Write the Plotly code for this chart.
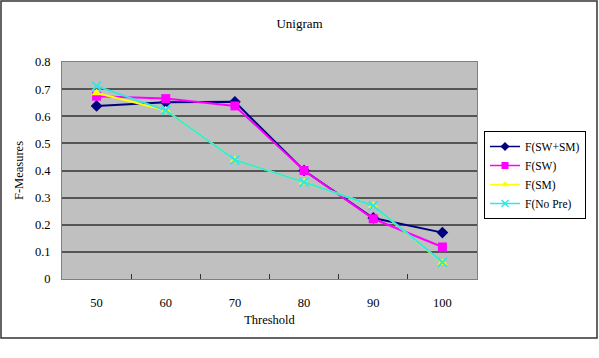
import plotly.graph_objects as go

thresholds = ["50", "60", "70", "80", "90", "100"]
f_sw_sm = [0.638, 0.652, 0.653, 0.400, 0.225, 0.171]
f_sw = [0.674, 0.665, 0.638, 0.400, 0.222, 0.118]
f_sm = [0.686, 0.622, 0.439, 0.357, 0.270, 0.060]
f_nopre = [0.711, 0.622, 0.439, 0.357, 0.270, 0.062]
series_names = ["F(SW+SM)", "F(SW)", "F(SM)", "F(No Pre)"]
y_ticks = [0, 0.1, 0.2, 0.3, 0.4, 0.5, 0.6, 0.7, 0.8]
y_ticktext = ["0", "0.1", "0.2", "0.3", "0.4", "0.5", "0.6", "0.7", "0.8"]

FONT = "Liberation Serif, Times New Roman, serif"
colors = ["#000080", "#FF00FF", "#FFFF00", "#33E6E6"]
symbols = ["diamond", "square", "triangle-up", "x-thin"]
values = [f_sw_sm, f_sw, f_sm, f_nopre]

fig = go.Figure()
for name, vals, col, sym in zip(series_names, values, colors, symbols):
    fig.add_trace(go.Scatter(x=thresholds, y=vals, name=name, mode="lines+markers",
                             showlegend=False, legendgroup=name,
                             line=dict(color=col, width=2),
                             marker=dict(symbol=sym, size=9, color=col,
                                         line=dict(color=col, width=2 if sym == "x-thin" else 0))))
for name, col, sym in zip(series_names, colors, symbols):
    fig.add_trace(go.Scatter(x=[None], y=[None], name=name, mode="lines+markers",
                             showlegend=True, legendgroup=name,
                             line=dict(color=col, width=1.5),
                             marker=dict(symbol=sym, size=7, color=col,
                                         line=dict(color=col, width=1.5 if sym == "x-thin" else 0))))

fig.update_layout(
    width=599, height=358,
    margin=dict(l=62, r=122, t=62, b=79),
    paper_bgcolor="white",
    plot_bgcolor="#C0C0C0",
    font=dict(family=FONT, size=12, color="black"),
    title=dict(text="Unigram", x=0.5, xref="container", xanchor="center",
               y=1 - 23 / 358, yref="container", yanchor="middle",
               font=dict(family=FONT, size=13, color="black")),
    showlegend=True,
    legend=dict(x=(484 - 62) / 415, y=(279 - 131) / 217, xanchor="left", yanchor="top",
                bgcolor="white", bordercolor="black", borderwidth=1,
                font=dict(family=FONT, size=11.5, color="black"),
                tracegroupgap=0),
    xaxis=dict(type="category", range=[-0.5, 5.5], showgrid=False,
               tickson="boundaries", ticks="inside", ticklen=5, tickcolor="#333",
               showline=True, linecolor="#808080", linewidth=1, mirror=True,
               ticklabelstandoff=12,
               tickfont=dict(family=FONT, size=12.5, color="black"),
               title=dict(text="Threshold", font=dict(family=FONT, size=12.5, color="black"),
                          standoff=6)),
    yaxis=dict(range=[0, 0.8], tickvals=y_ticks, ticktext=y_ticktext,
               showgrid=True, gridcolor="#555555", gridwidth=1.5,
               showline=True, linecolor="#808080", linewidth=1, mirror=True,
               zeroline=False, ticks="", ticklabelstandoff=8,
               tickfont=dict(family=FONT, size=12.5, color="black"),
               title=dict(text="F-Measures", font=dict(family=FONT, size=12.5, color="black"),
                          standoff=8)),
    shapes=[dict(type="rect", xref="paper", yref="paper",
                 x0=(1 - 62) / 415, x1=(597 - 62) / 415,
                 y0=(279 - 338) / 217, y1=(279 - 1) / 217,
                 line=dict(color="#333333", width=1.5), fillcolor="rgba(0,0,0,0)",
                 layer="below")],
)

fig.write_html("out.html")
